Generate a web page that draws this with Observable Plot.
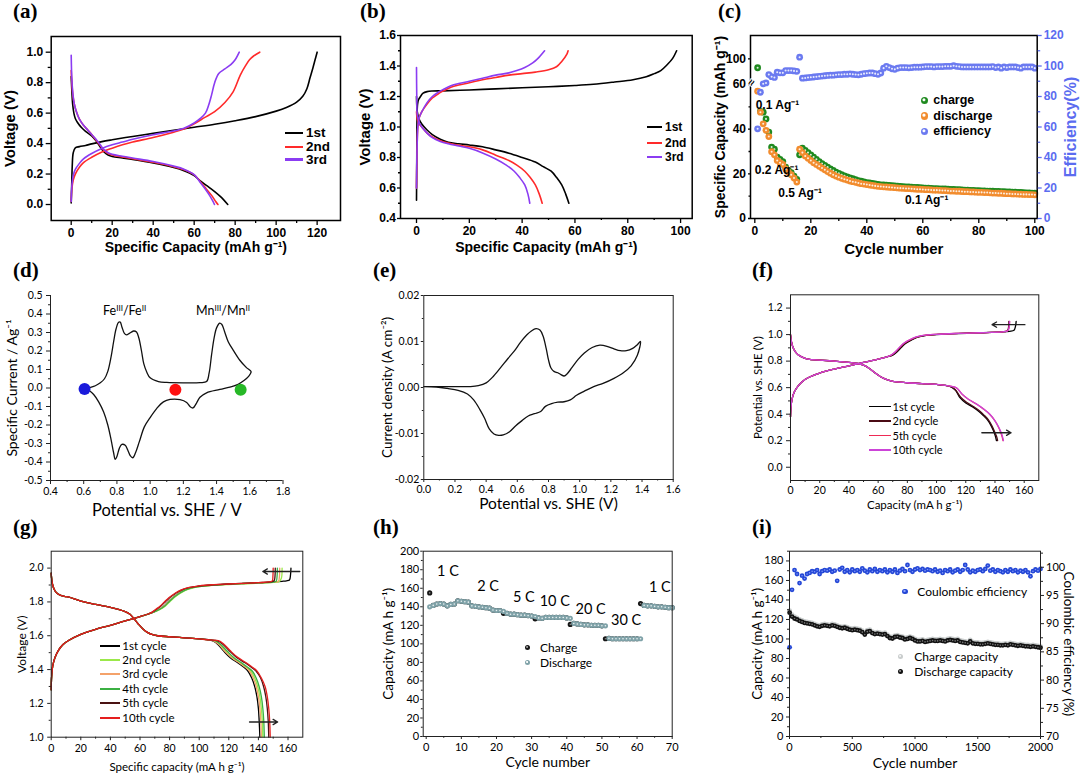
<!DOCTYPE html>
<html>
<head>
<meta charset="utf-8">
<script src="https://cdn.jsdelivr.net/npm/d3@7"></script>
<script src="https://cdn.jsdelivr.net/npm/@observablehq/plot@0.6"></script>
<style>
  html, body { margin:0; padding:0; background:#fff; }
  #fig { position:relative; width:1080px; height:777px; overflow:hidden; background:#fff; }
  .pl { position:absolute; }
  .tag { position:absolute; font-family:"Liberation Serif","Times New Roman",serif; font-weight:bold; font-size:21px; line-height:21px; color:#000; }
  .lg { position:absolute; white-space:nowrap; color:#000; }
  .sw { position:absolute; }
  .dotsw { position:absolute; border-radius:50%; }
  sup { font-size:65%; line-height:0; vertical-align:0.5em; }
</style>
</head>
<body>
<div id="fig"></div>
<script>
// ======================= DATA =======================
// (a) galvanostatic curves [capacity mAh/g, voltage V]
const aSeries = ["1st", "2nd", "3rd"];
const aCharge1 = [[0,0.01],[0.2,0.1],[0.5,0.25],[1,0.34],[2,0.372],[4,0.38],[7,0.388],[10,0.398],[15,0.413],[20,0.425],[30,0.447],[40,0.467],[50,0.487],[60,0.507],[70,0.527],[80,0.55],[90,0.577],[100,0.613],[105,0.637],[110,0.672],[113,0.71],[115,0.76],[116.5,0.83],[118,0.9],[119,0.95],[120,1.0]];
const aCharge2 = [[0,0.02],[0.3,0.1],[1,0.16],[2,0.2],[4,0.245],[6,0.275],[10,0.31],[15,0.345],[20,0.37],[25,0.392],[30,0.41],[40,0.44],[50,0.475],[55,0.495],[60,0.53],[65,0.57],[70,0.61],[75,0.67],[79,0.74],[82.5,0.85],[85,0.91],[87,0.95],[89,0.975],[92,1.0]];
const aCharge3 = [[0,0.02],[0.3,0.12],[1,0.19],[2,0.23],[4,0.27],[6,0.3],[10,0.335],[15,0.368],[20,0.392],[25,0.41],[30,0.428],[40,0.458],[50,0.483],[55,0.5],[60,0.535],[63,0.565],[65.5,0.6],[67,0.65],[68.5,0.72],[70,0.8],[72,0.86],[75,0.89],[78,0.92],[80,0.95],[82,1.0]];
const aDischarge1 = [[0,0.84],[0.3,0.75],[0.7,0.66],[1.3,0.6],[2,0.565],[3,0.54],[5,0.505],[7,0.48],[10,0.45],[12,0.42],[14,0.38],[16,0.345],[18,0.325],[20,0.315],[25,0.305],[30,0.295],[40,0.272],[50,0.243],[55,0.222],[60,0.19],[63,0.155],[66,0.125],[70,0.085],[73,0.05],[76.4,0.0]];
const aDischarge2 = [[0,0.88],[0.3,0.8],[0.8,0.72],[1.5,0.66],[2.5,0.61],[4,0.56],[6,0.52],[8,0.49],[10,0.46],[12,0.425],[14,0.39],[16,0.355],[18,0.335],[20,0.325],[25,0.312],[30,0.3],[40,0.277],[50,0.248],[55,0.228],[60,0.195],[63,0.15],[66,0.1],[68.5,0.06],[70.5,0.02],[71.6,0.0]];
const aDischarge3 = [[0,0.98],[0.3,0.83],[0.8,0.73],[1.5,0.66],[2.5,0.61],[4,0.56],[6,0.52],[8,0.49],[10,0.46],[12,0.43],[14,0.395],[16,0.36],[18,0.34],[20,0.33],[25,0.317],[30,0.305],[40,0.282],[50,0.252],[55,0.232],[60,0.196],[63,0.145],[65.5,0.1],[67.5,0.06],[69,0.025],[69.9,0.0]];
const aXTicks = [0,20,40,60,80,100,120], aXMinor = [10,30,50,70,90,110];
const aYTicks = [0,0.2,0.4,0.6,0.8,1.0], aYMinor = [0.1,0.3,0.5,0.7,0.9];

// (b)
const bSeries = ["1st", "2nd", "3rd"];
const bCharge1 = [[0,0.52],[0.1,0.8],[0.2,1.05],[0.4,1.15],[0.8,1.18],[1.5,1.2],[2.5,1.222],[4,1.232],[6,1.236],[10,1.237],[20,1.243],[30,1.25],[40,1.257],[50,1.264],[60,1.272],[67,1.28],[75,1.295],[82,1.31],[87,1.33],[90,1.35],[92.5,1.37],[95,1.41],[97,1.45],[98.5,1.5]];
const bCharge2 = [[0,0.6],[0.2,0.85],[0.5,1.0],[1,1.06],[2,1.1],[4,1.15],[6,1.19],[8,1.215],[10,1.235],[13,1.26],[16,1.275],[20,1.29],[25,1.31],[30,1.325],[35,1.34],[40,1.35],[45,1.36],[50,1.375],[53,1.395],[55,1.43],[57,1.48],[57.4,1.5]];
const bCharge3 = [[0,0.6],[0.2,0.85],[0.5,1.0],[1,1.06],[2,1.1],[4,1.16],[6,1.2],[8,1.225],[10,1.245],[13,1.27],[16,1.285],[20,1.3],[25,1.32],[30,1.34],[35,1.355],[38,1.37],[41,1.39],[44,1.42],[46,1.45],[48.5,1.5]];
const bDischarge1 = [[0,1.2],[0.3,1.1],[1,1.05],[2,1.02],[4,0.98],[6,0.95],[9,0.92],[12,0.9],[16,0.89],[20,0.882],[25,0.87],[30,0.85],[35,0.828],[40,0.8],[45,0.77],[48,0.74],[51,0.71],[53,0.67],[55,0.62],[56.5,0.56],[57.7,0.5]];
const bDischarge2 = [[0,1.1],[0.3,1.05],[1,1.02],[2,1.0],[4,0.96],[6,0.935],[9,0.91],[12,0.895],[16,0.88],[20,0.87],[25,0.85],[30,0.815],[35,0.78],[38,0.75],[41,0.71],[43,0.67],[45,0.62],[46.5,0.56],[47.6,0.5]];
const bDischarge3 = [[0,1.39],[0.1,1.2],[0.3,1.08],[1,1.03],[2,1.0],[4,0.96],[6,0.93],[9,0.905],[12,0.89],[16,0.875],[20,0.86],[25,0.83],[30,0.79],[34,0.75],[37,0.71],[39,0.67],[41,0.62],[42.2,0.56],[42.9,0.5]];
const bXTicks = [0,20,40,60,80,100], bXMinor = [10,30,50,70,90];
const bYTicks = [0.4,0.6,0.8,1.0,1.2,1.4,1.6], bYMinor = [0.5,0.7,0.9,1.1,1.3,1.5];

// (c) cycling, cycles 1..100
const cSeries = ["charge", "discharge", "efficiency"];
const cCharge = [
  96, 48, 47.6, 44.6, 38.7, 32, 31, 27.5, 26.5, 25.5,
  23, 21.5, 20.5, 19, 17.5, 28.5, 31.5, 30.5, 29.5, 28.5,
  27.5, 26.5, 25.5, 24.6, 23.8, 23, 22.2, 21.5, 20.8, 20.2,
  19.6, 19.1, 18.6, 18.2, 17.8, 17.4, 17, 16.7, 16.4, 16.1,
  15.9, 15.7, 15.5, 15.3, 15.1, 15, 14.9, 14.8, 14.7, 14.6,
  14.5, 14.4, 14.3, 14.2, 14.1, 14.0, 13.9, 13.9, 13.8, 13.7,
  13.6, 13.6, 13.5, 13.4, 13.4, 13.3, 13.2, 13.2, 13.1, 13.0,
  13.0, 12.9, 12.9, 12.8, 12.7, 12.7, 12.6, 12.6, 12.5, 12.5,
  12.4, 12.4, 12.3, 12.3, 12.2, 12.1, 12.1, 12.0, 12.0, 11.9,
  11.9, 11.8, 11.8, 11.7, 11.7, 11.6, 11.5, 11.5, 11.4, 11.4];
const cDischarge = [
  57, 47.6, 42.4, 39.5, 36.7, 29.9, 28.5, 26, 25, 24.2,
  22.2, 20.7, 19.6, 18.1, 16.3, 31, 29.5, 28, 27, 26,
  25, 24.2, 23.4, 22.6, 21.8, 21, 20.3, 19.6, 19, 18.5,
  18, 17.6, 17.2, 16.8, 16.5, 16.2, 15.9, 15.6, 15.4, 15.2,
  15, 14.8, 14.6, 14.4, 14.3, 14.2, 14.1, 14.0, 13.9, 13.8,
  13.7, 13.6, 13.5, 13.4, 13.4, 13.3, 13.2, 13.1, 13.1, 13.0,
  12.9, 12.9, 12.8, 12.7, 12.7, 12.6, 12.5, 12.5, 12.4, 12.3,
  12.3, 12.2, 12.2, 12.1, 12.0, 12.0, 11.9, 11.9, 11.8, 11.7,
  11.7, 11.6, 11.6, 11.5, 11.4, 11.4, 11.3, 11.3, 11.2, 11.1,
  11.1, 11.0, 11.0, 10.9, 10.9, 10.8, 10.8, 10.7, 10.7, 10.6];
const cEff = [
  58.8, 82.8, 88.3, 88.9, 94.4, 93, 92.5, 95.9, 95.5, 95.5,
  97, 97, 97, 96.8, 96.5, 105.8, 92, 92.2, 92.4, 92.6,
  92.8, 93, 93.2, 93.4, 93.6, 93.8, 94, 94, 94.2, 94.4,
  94.4, 94.6, 94.6, 94.8, 94.6, 94.4, 94.2, 94.6, 95, 95.2,
  95.4, 95.4, 95, 94.6, 95.4, 98.6, 99.8, 99, 98.2, 97.8,
  98.6, 99, 99, 99, 98.8, 99, 99.2, 99.2, 99.2, 99.4,
  99.6, 99.6, 99.6, 99.4, 99.6, 99.6, 99.6, 99.8, 99.8, 99.8,
  100.2, 99.8, 99.6, 99.4, 99.4, 99.4, 99.4, 99.4, 99.4, 99.4,
  99.4, 99.4, 99.4, 99.4, 99.6, 99, 99.4, 98.6, 99.4, 99,
  99.4, 99.4, 99.4, 99, 98.6, 99.4, 99.4, 99.4, 99.4, 98.6];
const cRateText = ["0.1 Ag⁻¹", "0.2 Ag⁻¹", "0.5 Ag⁻¹", "0.1 Ag⁻¹"];
const cRateCycle = [0.3, 0, 8.4, 53.6];
const cRateCap = [50.6, 21.5, 11.3, 8.1];
const cXTicks = [0,20,40,60,80,100], cXMinor = [10,30,50,70,90];
const cCapTicks = [0,20,40,60,100], cCapMinor = [10,30,50];
const cEffTicks = [0,20,40,60,80,100,120], cEffMinor = [10,30,50,70,90,110];

// (d) CV loop [potential V, current A/g]
const dCV = [[0.615,-0.003],[0.64,0.003],[0.67,0.012],[0.7,0.028],[0.725,0.05],[0.745,0.09],[0.765,0.17],[0.78,0.25],[0.795,0.32],[0.81,0.355],[0.82,0.356],[0.83,0.33],[0.845,0.295],[0.858,0.287],[0.875,0.295],[0.9,0.308],[0.918,0.303],[0.932,0.27],[0.948,0.2],[0.962,0.13],[0.98,0.085],[1.0,0.055],[1.05,0.035],[1.1,0.03],[1.2,0.028],[1.3,0.029],[1.34,0.035],[1.355,0.08],[1.37,0.18],[1.385,0.27],[1.40,0.325],[1.418,0.35],[1.432,0.343],[1.448,0.305],[1.47,0.25],[1.5,0.205],[1.54,0.15],[1.58,0.11],[1.608,0.088],[1.59,0.06],[1.565,0.04],[1.53,0.02],[1.5,0.01],[1.42,-0.008],[1.34,-0.026],[1.3,-0.05],[1.28,-0.08],[1.258,-0.108],[1.24,-0.1],[1.22,-0.078],[1.18,-0.063],[1.12,-0.062],[1.08,-0.075],[1.04,-0.11],[1.0,-0.16],[0.965,-0.21],[0.935,-0.29],[0.912,-0.35],[0.895,-0.377],[0.88,-0.365],[0.865,-0.335],[0.85,-0.31],[0.83,-0.305],[0.815,-0.325],[0.8,-0.37],[0.79,-0.386],[0.78,-0.35],[0.765,-0.28],[0.745,-0.2],[0.72,-0.13],[0.69,-0.075],[0.66,-0.035],[0.63,-0.012],[0.615,-0.003]];
const dDotX = [0.605, 1.152, 1.545];
const dDotY = [-0.005, -0.01, -0.01];
const dXTicks = [0.4,0.6,0.8,1.0,1.2,1.4,1.6,1.8], dXMinor = [0.5,0.7,0.9,1.1,1.3,1.5,1.7];
const dYTicks = [-0.5,-0.4,-0.3,-0.2,-0.1,0,0.1,0.2,0.3,0.4,0.5];
const dYMinor = [-0.45,-0.35,-0.25,-0.15,-0.05,0.05,0.15,0.25,0.35,0.45];

// (e) CV loop [potential V, current density A/cm2]
const eCV = [[0,0.0002],[0.1,0.0002],[0.2,0.0002],[0.3,0.0002],[0.35,0.0004],[0.4,0.001],[0.44,0.0022],[0.49,0.0042],[0.54,0.0063],[0.58,0.0079],[0.62,0.0098],[0.66,0.0114],[0.69,0.0123],[0.72,0.0128],[0.745,0.0125],[0.765,0.0112],[0.785,0.0085],[0.8,0.006],[0.815,0.0043],[0.835,0.0035],[0.86,0.0032],[0.88,0.0028],[0.9,0.0025],[0.92,0.003],[0.95,0.0043],[0.99,0.0061],[1.03,0.0075],[1.08,0.0087],[1.13,0.0092],[1.18,0.0089],[1.22,0.0084],[1.26,0.008],[1.3,0.008],[1.34,0.0085],[1.37,0.0093],[1.39,0.01],[1.37,0.007],[1.33,0.0047],[1.28,0.0032],[1.22,0.002],[1.15,0.0009],[1.09,0.0002],[1.03,-0.0008],[0.98,-0.0017],[0.94,-0.0027],[0.9,-0.0031],[0.86,-0.0032],[0.82,-0.0035],[0.78,-0.0041],[0.75,-0.0052],[0.71,-0.0057],[0.67,-0.0062],[0.63,-0.0072],[0.59,-0.0083],[0.55,-0.0096],[0.51,-0.0103],[0.48,-0.0104],[0.45,-0.0101],[0.42,-0.009],[0.39,-0.0067],[0.36,-0.0048],[0.32,-0.0027],[0.28,-0.0014],[0.22,-0.0006],[0.15,-0.0002],[0.08,0.0001],[0,0.0002]];
const eXTicks = [0,0.2,0.4,0.6,0.8,1.0,1.2,1.4,1.6], eXMinor = [0.1,0.3,0.5,0.7,0.9,1.1,1.3,1.5];
const eYTicks = [-0.02,-0.01,0,0.01,0.02], eYMinor = [-0.015,-0.005,0.005,0.015];

// (f) [capacity mAh/g, potential V]
const fSeries = ["1st cycle", "2nd cycle", "5th cycle", "10th cycle"];
const fChargeHead = [[0,0.38],[0.3,0.45],[1,0.51],[2.5,0.565],[5,0.61],[8,0.645],[12,0.675],[20,0.71],[30,0.74],[40,0.765],[50,0.79],[60,0.815],[66,0.832]];
const fChargeTail = [
  [[70,0.845],[73,0.87],[76,0.905],[79,0.935],[83,0.96],[87,0.98],[92,0.993],[100,1.0],[115,1.008],[130,1.013],[145,1.02],[150,1.025],[153,1.032],[154,1.06],[154.5,1.1]],
  [[69.5,0.845],[72.5,0.87],[75.5,0.905],[78.5,0.935],[82.5,0.96],[86.5,0.98],[91.5,0.993],[100,1.001],[115,1.009],[130,1.014],[145,1.021],[148,1.026],[149,1.04],[149.5,1.1]],
  [[69,0.845],[72,0.872],[75,0.907],[78,0.937],[82,0.962],[86,0.981],[91,0.994],[100,1.002],[115,1.009],[130,1.014],[145,1.021],[148.5,1.027],[149.5,1.045],[150,1.1]],
  [[69,0.846],[72,0.873],[75,0.908],[78,0.938],[82,0.963],[86,0.982],[91,0.994],[100,1.002],[115,1.009],[130,1.014],[145,1.021],[148.5,1.027],[149.5,1.045],[150,1.1]]];
const fDischargeHead = [[0,1.0],[0.5,0.955],[1.5,0.91],[3,0.875],[5,0.85],[8,0.83],[12,0.815],[20,0.808],[30,0.8],[40,0.79],[46,0.782],[50,0.77],[54,0.745],[58,0.71],[62,0.68],[66,0.66],[70,0.647],[80,0.637],[90,0.63],[100,0.624],[106,0.617]];
const fDischargeTail = [
  [[110,0.605],[113,0.58],[116,0.525],[120,0.485],[125,0.452],[129,0.42],[132,0.39],[135,0.355],[137.5,0.31],[139.5,0.26],[140.5,0.225],[141,0.2]],
  [[110,0.606],[113,0.582],[116.5,0.528],[120.5,0.49],[125.5,0.456],[129.5,0.424],[132.5,0.393],[135.5,0.357],[138,0.31],[140,0.26],[141.3,0.225],[141.8,0.2]],
  [[111,0.608],[114,0.595],[117.5,0.55],[122,0.51],[127.5,0.475],[132,0.44],[136.5,0.398],[140,0.35],[142.5,0.3],[144,0.26],[145,0.225],[145.5,0.2]],
  [[111,0.608],[114,0.595],[117.5,0.551],[122,0.511],[127.5,0.476],[132,0.441],[136.5,0.399],[140,0.35],[142.7,0.3],[144.3,0.26],[145.3,0.225],[145.8,0.2]]];
const fArrowX1 = [160.5, 131], fArrowX2 = [138, 151], fArrowY = [1.075, 0.26];
const fXTicks = [0,20,40,60,80,100,120,140,160], fXMinor = [10,30,50,70,90,110,130,150];
const fYTicks = [0,0.2,0.4,0.6,0.8,1.0,1.2], fYMinor = [0.1,0.3,0.5,0.7,0.9,1.1];

// (g) [capacity mAh/g, voltage V]
const gSeries = ["1st cycle", "2nd cycle", "3rd cycle", "4th cycle", "5th cycle", "10th cycle"];
const gChargeHead = [[0,1.28],[0.3,1.36],[1,1.42],[2.5,1.47],[5,1.515],[8,1.548],[12,1.573],[20,1.608],[30,1.638],[40,1.662],[50,1.688],[60,1.713],[66,1.73]];
const gChargeTail = [
  [[70,1.742],[73,1.755],[76,1.775],[79,1.8],[82,1.825],[86,1.85],[90,1.87],[95,1.884],[100,1.893],[110,1.9],[120,1.905],[130,1.909],[140,1.913],[150,1.918],[156,1.922],[159,1.925],[161,1.93],[161.7,1.96],[162,2.0]],
  [[70,1.742],[73.5,1.755],[77,1.775],[80,1.8],[83,1.825],[87,1.85],[91,1.87],[96,1.883],[100,1.89],[110,1.898],[120,1.903],[130,1.907],[140,1.911],[150,1.916],[154,1.92],[155.5,1.94],[156,2.0]],
  [[69,1.74],[72.5,1.755],[76,1.775],[79,1.8],[82,1.825],[86,1.85],[90,1.87],[95,1.884],[100,1.892],[110,1.9],[120,1.905],[130,1.909],[140,1.913],[150,1.917],[153.5,1.922],[154.2,1.95],[154.4,2.0]],
  [[69,1.74],[73,1.755],[76.5,1.775],[79.5,1.8],[82.5,1.825],[86.5,1.85],[90.5,1.87],[95.5,1.884],[100,1.891],[110,1.9],[120,1.905],[130,1.909],[140,1.913],[150,1.917],[152,1.922],[152.6,1.95],[152.8,2.0]],
  [[68,1.738],[71,1.755],[74,1.775],[77,1.8],[80,1.825],[84,1.85],[88,1.87],[93,1.884],[100,1.894],[110,1.901],[120,1.906],[130,1.91],[140,1.914],[148,1.918],[150.6,1.925],[151.2,1.95],[151.4,2.0]],
  [[68,1.738],[70.5,1.755],[73.5,1.775],[76.5,1.8],[79.5,1.825],[83.5,1.85],[87.5,1.87],[92.5,1.884],[100,1.895],[110,1.902],[120,1.906],[130,1.91],[140,1.914],[147,1.918],[149.4,1.925],[149.8,1.95],[150,2.0]]];
const gDischargeHead = [[0,1.97],[0.4,1.93],[1,1.9],[2,1.875],[3.5,1.855],[6,1.84],[9,1.833],[12,1.828],[20,1.805],[30,1.785],[40,1.768],[46,1.755],[50,1.743],[53,1.728],[56,1.7],[59,1.668],[62,1.64],[65,1.62],[68,1.608],[72,1.6],[80,1.594],[90,1.588],[100,1.581],[107,1.575]];
const gDischargeTail = [
  [[110,1.566],[113,1.545],[117,1.505],[121,1.47],[126,1.44],[130,1.415],[133,1.39],[135.5,1.35],[137.5,1.3],[139,1.24],[140,1.17],[140.5,1.1],[141,1.0]],
  [[111,1.568],[114,1.547],[118,1.507],[122.5,1.47],[127.5,1.44],[131.5,1.415],[135,1.39],[137.5,1.35],[139.5,1.3],[141,1.24],[142,1.17],[142.6,1.1],[143,1.0]],
  [[110.5,1.567],[113.5,1.546],[117.5,1.506],[122,1.47],[127,1.44],[131,1.415],[134,1.39],[136.5,1.35],[138.5,1.3],[140,1.24],[141,1.17],[141.6,1.1],[142,1.0]],
  [[111.5,1.568],[114.5,1.548],[119,1.508],[123.5,1.47],[128.5,1.44],[132.5,1.415],[136,1.39],[138.5,1.35],[140.5,1.3],[142,1.24],[143,1.17],[143.6,1.1],[144,1.0]],
  [[112.5,1.57],[116,1.55],[120.5,1.51],[125.5,1.47],[131,1.44],[135,1.415],[138.5,1.39],[141.5,1.35],[143.5,1.3],[145,1.24],[146,1.17],[146.6,1.1],[147,1.0]],
  [[113,1.571],[116.5,1.551],[121,1.511],[126,1.472],[131.5,1.442],[135.5,1.417],[139,1.392],[142,1.35],[144.5,1.3],[146,1.24],[147,1.17],[147.6,1.1],[148,1.0]]];
const gArrowX1 = [168, 134], gArrowX2 = [143, 153], gArrowY = [1.98, 1.09];
const gXTicks = [0,20,40,60,80,100,120,140,160], gXMinor = [10,30,50,70,90,110,130,150];
const gYTicks = [1.0,1.2,1.4,1.6,1.8,2.0], gYMinor = [1.1,1.3,1.5,1.7,1.9];

// (h) rate capability, cycles 1..70
const hSeries = ["Charge", "Discharge"];
const hCharge = [
  155, 141.5, 143, 143.5, 143, 141, 142.5, 143, 146.5, 146,
  145.5, 145, 141, 140.5, 140, 139.5, 139, 138.5, 136.5, 136,
  136, 133, 133, 132, 132, 131.5, 131, 131, 130.5, 130,
  127, 128, 127.5, 128.5, 128.5, 128.5, 128.5, 128.5, 128.5, 128,
  121, 122, 121.5, 121, 120.5, 120.5, 120, 120, 120, 119.5,
  105.5, 106, 105.5, 105.5, 105.5, 105.5, 105.5, 105.5, 105.5, 105.5,
  143.5, 141.5, 141, 141, 140.5, 140, 140, 139.5, 139, 139];
const hDischarge = [
  140, 141.5, 143, 143.5, 143, 141, 142.5, 143, 146.5, 146,
  145.5, 145, 141, 140.5, 140, 139.5, 139, 138.5, 136.5, 136,
  136, 135, 133, 132, 132, 131.5, 131, 131, 130.5, 130,
  129.5, 128, 127.5, 128.5, 128.5, 128.5, 128.5, 128.5, 128.5, 128,
  127.5, 122, 121.5, 121, 120.5, 120.5, 120, 120, 120, 119.5,
  119.5, 106, 105.5, 105.5, 105.5, 105.5, 105.5, 105.5, 105.5, 105.5,
  105.5, 141.5, 141, 141, 140.5, 140, 140, 139.5, 139, 139];
const hRateText = ["1 C", "2 C", "5 C", "10 C", "20 C", "30 C", "1 C"];
const hRateCycle = [6.2, 17.6, 27.8, 36.6, 46.8, 56.9, 66.5];
const hRateCap = [178, 162, 150.4, 146, 136.7, 125.2, 161];
const hXTicks = [0,10,20,30,40,50,60,70], hXMinor = [5,15,25,35,45,55,65];
const hYTicks = [0,20,40,60,80,100,120,140,160,180,200], hYMinor = [10,30,50,70,90,110,130,150,170,190];

// (i) long cycling, every 20 cycles (cycle 1, 20, 40, ..., 2000)
const iSeries = ["Coulombic efficiency", "Charge capacity", "Discharge capacity"];
const iCycles = d3.range(0, 2001, 20).map(c => Math.max(c, 1));
const iEff = [
  85.8, 96, 99.5, 98.8, 97.2, 98.5, 98, 98.8, 99, 99.3,
  99.2, 99.5, 98.8, 99.3, 99.5, 99.4, 99.6, 99.2, 99.4, 97.6,
  99.6, 99.9, 99.2, 99.5, 99.1, 99.6, 99.3, 99.5, 99.2, 99.8,
  99.4, 99.1, 99.6, 99.3, 99.7, 99.2, 99.5, 99.3, 99.6, 99.1,
  99.5, 99.2, 99.6, 99.0, 99.4, 99.7, 99.3, 100.4, 99.5, 99.2,
  99.6, 99.8, 99.5, 99.7, 99.4, 99.6, 99.5, 99.3, 99.6, 99.2,
  99.4, 99.0, 99.5, 99.3, 99.6, 99.1, 99.4, 99.6, 99.2, 99.5,
  100.4, 99.6, 99.1, 99.4, 99.2, 99.5, 99.6, 99.3, 99.7, 100.3,
  99.4, 99.6, 99.2, 99.5, 99.3, 99.1, 99.5, 99.2, 99.6, 99.3,
  99.5, 99.1, 99.4, 99.2, 99.5, 99.1, 98.4, 99.3, 99.6, 99.4,
  99.7];
const iCharge = [
  129, 125, 123, 121.5, 120, 119, 118, 117.5, 117, 116.5,
  115.5, 114.5, 114, 115, 115.5, 115, 114.5, 115.5, 115, 114,
  113, 112.5, 113, 112, 111, 110.5, 111, 110.5, 110, 108.5,
  106, 109, 109.5, 107.5, 106.5, 107, 106.5, 106, 106.5, 104.5,
  102.5, 102, 103.5, 104, 103, 102.5, 101, 101.5, 102.5, 101.5,
  100, 99, 99, 99.5, 98.5, 99, 99.5, 100, 99.5, 99.5,
  100, 99.5, 99, 100, 100.5, 100, 99.5, 100, 98.5, 98,
  97.5, 97, 99, 97, 96.5, 96.5, 96, 96, 96.5, 97,
  96.5, 96, 95.5, 95.5, 95, 95, 95.5, 95, 96, 95.5,
  95, 94.5, 95, 94.5, 94, 94, 93.5, 94, 93.5, 93,
  92.5];
const iDischarge = [
  127, 123, 121, 120, 118.5, 117.5, 116.5, 116, 115.5, 115,
  114, 113, 112.5, 113.5, 114, 113.5, 113, 114, 113.5, 112.5,
  111.5, 111, 111.5, 110.5, 109.5, 109, 109.5, 109, 108.5, 107,
  104.5, 107.5, 108, 106, 105, 105.5, 105, 104.5, 105, 103,
  101, 100.5, 102, 102.5, 101.5, 101, 99.5, 100, 101, 100,
  98.5, 97.5, 97.5, 98, 97, 97.5, 98, 98.5, 98, 98,
  98.5, 98, 97.5, 98.5, 99, 98.5, 98, 98.5, 97, 96.5,
  96, 95.5, 97.5, 95.5, 95, 95, 94.5, 94.5, 95, 95.5,
  95, 94.5, 94, 94, 93.5, 93.5, 94, 93.5, 94.5, 94,
  93.5, 93, 93.5, 93, 92.5, 92.5, 92, 92.5, 92, 91.5,
  91];
const iXTicks = [0,500,1000,1500,2000], iXMinor = [250,750,1250,1750];
const iCapTicks = [0,20,40,60,80,100,120,140,160,180], iCapMinor = [10,30,50,70,90,110,130,150,170,190];
const iEffTicks = [70,75,80,85,90,95,100], iEffMinor = [72.5,77.5,82.5,87.5,92.5,97.5,102.5];

// ======================= HELPERS =======================
const fig = document.getElementById("fig");
const F_B = "'Liberation Sans', Arial, Helvetica, sans-serif";
const F_L = "Lato, 'Open Sans', 'Noto Sans', sans-serif";

function place(plot, left, top, w, h) {
  const d = document.createElement("div");
  d.className = "pl";
  d.style.left = left + "px"; d.style.top = top + "px";
  d.style.width = w + "px"; d.style.height = h + "px";
  d.appendChild(plot);
  fig.appendChild(d);
}
function axes(o) {
  const sw = o.sw || 1, col = o.color || "currentColor";
  const m = [];
  m.push(Plot.axisX(o.xT, {anchor: "bottom", tickSize: o.xs ?? 4, tickPadding: o.xp ?? 3, tickFormat: o.xF, label: null, strokeWidth: sw, stroke: col}));
  if (o.xm) m.push(Plot.axisX(o.xm, {anchor: "bottom", tickSize: o.ms ?? 2.5, tickFormat: () => "", label: null, strokeWidth: sw, stroke: col}));
  if (o.yT) m.push(Plot.axisY(o.yT, {anchor: "left", tickSize: o.ys ?? 4, tickPadding: o.yp ?? 3, tickFormat: o.yF, label: null, strokeWidth: sw, stroke: col}));
  if (o.ym) m.push(Plot.axisY(o.ym, {anchor: "left", tickSize: o.ms ?? 2.5, tickFormat: () => "", label: null, strokeWidth: sw, stroke: col}));
  return m;
}
function xLab(t, dy, fs, extra) {
  return Plot.text([t], {text: d => d, frameAnchor: "bottom", dy, fontSize: fs, textAnchor: "middle", lineAnchor: "middle", ...(extra || {})});
}
function yLab(t, dx, fs, extra, side, rot) {
  return Plot.text([t], {text: d => d, frameAnchor: side || "left", dx, rotate: rot ?? -90, fontSize: fs, textAnchor: "middle", lineAnchor: "middle", ...(extra || {})});
}
function curve(arr, stroke, sw) {
  return Plot.line(arr, {x: d => d[0], y: d => d[1], stroke, strokeWidth: sw, curve: "catmull-rom"});
}
function styleOf(font, size, weight) {
  return {fontFamily: font, fontSize: size + "px", fontWeight: weight || "normal", color: "#000", background: "transparent", overflow: "visible"};
}
function tag(t, left, top) {
  const d = document.createElement("div");
  d.className = "tag"; d.style.left = left + "px"; d.style.top = top + "px"; d.textContent = t;
  fig.appendChild(d);
}
function legText(html, x, cy, font, size, weight, color) {
  const d = document.createElement("div");
  d.className = "lg";
  d.style.left = x + "px"; d.style.top = (cy - size * 0.6) + "px";
  d.style.lineHeight = (size * 1.2) + "px";
  d.style.fontFamily = font; d.style.fontSize = size + "px"; d.style.fontWeight = weight || "normal";
  if (color) d.style.color = color;
  d.innerHTML = html;
  fig.appendChild(d);
}
function legLine(x1, x2, cy, color, w) {
  const d = document.createElement("div");
  d.className = "sw";
  d.style.left = x1 + "px"; d.style.width = (x2 - x1) + "px";
  d.style.top = (cy - w / 2) + "px"; d.style.height = w + "px"; d.style.background = color;
  fig.appendChild(d);
}
function legDot(cx, cy, r, color, hl) {
  const d = document.createElement("div");
  d.className = "dotsw";
  d.style.left = (cx - r) + "px"; d.style.top = (cy - r) + "px";
  d.style.width = (2 * r) + "px"; d.style.height = (2 * r) + "px";
  d.style.background = hl ? `radial-gradient(circle at 42% 40%, ${hl} 0 14%, ${color} 34%)` : color;
  fig.appendChild(d);
}
function sphere(data, x, y, r, fill, hl) {
  return [
    Plot.dot(data, {x, y, r, fill}),
    Plot.dot(data, {x, y, r: Math.max(0.8, r * 0.3), fill: hl || "white", fillOpacity: 0.85})
  ];
}
const fmt0 = d => String(d);
const fmt1 = d => d.toFixed(1);
const fmt2 = d => d.toFixed(2);

// ======================= (a) =======================
const abColors = ["#000000", "#ff2a2a", "#8b3cf2"];
{
  const ch = [aCharge1, aCharge2, aCharge3], dis = [aDischarge1, aDischarge2, aDischarge3];
  place(Plot.plot({
    width: 360, height: 232, marginLeft: 50.7, marginRight: 20, marginTop: 8, marginBottom: 40,
    x: {domain: [-9.76, 131.4]}, y: {domain: [-0.105, 1.103]},
    style: styleOf(F_B, 12, "bold"),
    marks: [
      ...aSeries.flatMap((s, i) => [curve(ch[i], abColors[i], 1.6), curve(dis[i], abColors[i], 1.6)]),
      Plot.frame({strokeWidth: 1.5}),
      ...axes({xT: aXTicks, xm: aXMinor, yT: aYTicks, ym: aYMinor, xF: fmt0, yF: fmt1, sw: 1.3, xs: 5, xp: 3, ys: 5, yp: 3, ms: 3}),
      xLab("Specific Capacity (mAh g⁻¹)", 27, 14, {fontWeight: "bold"}),
      yLab("Voltage (V)", -40.7, 15, {fontWeight: "bold"})
    ]
  }), 0, 28, 360, 232);
  aSeries.forEach((s, i) => {
    const cy = [133, 146.7, 159.6][i];
    legLine(285, 303, cy, abColors[i], 2.4);
    legText(s, 306, cy, F_B, 13.5, "bold");
  });
}

// ======================= (b) =======================
{
  const ch = [bCharge1, bCharge2, bCharge3], dis = [bDischarge1, bDischarge2, bDischarge3];
  place(Plot.plot({
    width: 360, height: 233, marginLeft: 40, marginRight: 28.3, marginTop: 8, marginBottom: 42,
    x: {domain: [-6.06, 104.4]}, y: {domain: [0.4, 1.6]},
    style: styleOf(F_B, 12, "bold"),
    marks: [
      ...bSeries.flatMap((s, i) => [curve(ch[i], abColors[i], 1.6), curve(dis[i], abColors[i], 1.6)]),
      Plot.frame({strokeWidth: 1.5}),
      ...axes({xT: bXTicks, xm: bXMinor, yT: bYTicks, ym: bYMinor, xF: fmt0, yF: fmt1, sw: 1.3, xs: 5, xp: 3, ys: 3, yp: 1.5, ms: 2}),
      xLab("Specific Capacity (mAh g⁻¹)", 28.7, 14, {fontWeight: "bold"}),
      yLab("Voltage (V)", -35, 15, {fontWeight: "bold"})
    ]
  }), 360, 27, 360, 233);
  bSeries.forEach((s, i) => {
    const cy = [127.3, 142.7, 156.7][i];
    legLine(647.3, 661.7, cy, abColors[i], 2.4);
    legText(s, 665, cy, F_B, 12, "bold");
  });
}

// ======================= (c) =======================
const cColors = ["#1f8a1f", "#f28c2e", "#6b7af0"];
const capLo = 60, capHi = 88.5, capK = 87.87 / 60;
const capY = c => (c <= capLo ? c * capK : (capLo + c - capHi) * capK);
const capInv = v => { const c = v / capK; return c <= capLo + 1e-6 ? c : c - capLo + capHi; };
{
  const rows = cCharge.map((v, i) => ({n: i + 1, ch: v, dis: cDischarge[i], ef: cEff[i]}));
  const rates = cRateText.map((t, i) => ({t, x: cRateCycle[i], y: capY(cRateCap[i])}));
  const blue = "#5b6cf0";
  place(Plot.plot({
    width: 365, height: 233, marginLeft: 35, marginRight: 43.3, marginTop: 8, marginBottom: 42,
    x: {domain: [-1.54, 100.86]}, y: {domain: [0, 120]},
    style: styleOf(F_B, 12, "bold"),
    marks: [
      ...sphere(rows, "n", d => capY(d.ch), 3.4, cColors[0]),
      ...sphere(rows, "n", d => capY(d.dis), 3.4, cColors[1]),
      ...sphere(rows, "n", "ef", 3.4, cColors[2]),
      Plot.text(rates, {x: "x", y: "y", text: "t", textAnchor: "start", fontSize: 12, fontWeight: "bold"}),
      Plot.frame({strokeWidth: 1.5}),
      ...axes({xT: cXTicks, xm: cXMinor, xF: fmt0, sw: 1.3, xs: 5, xp: 3, ms: 3}),
      Plot.axisY(cCapTicks.map(capY), {anchor: "left", tickSize: 2, tickPadding: 2.5, tickFormat: v => String(Math.round(capInv(v))), label: null, strokeWidth: 1.3}),
      Plot.axisY(cCapMinor.map(capY), {anchor: "left", tickSize: 1.5, tickFormat: () => "", label: null, strokeWidth: 1.3}),
      Plot.axisY(cEffTicks, {anchor: "right", tickSize: 4, tickPadding: 2.5, tickFormat: fmt0, label: null, strokeWidth: 1.3, color: blue}),
      Plot.axisY(cEffMinor, {anchor: "right", tickSize: 2.5, tickFormat: () => "", label: null, strokeWidth: 1.3, color: blue}),
      Plot.text(["≈"], {text: d => d, frameAnchor: "left", y: () => capLo * capK + 1.2, dx: 1, rotate: -60, textAnchor: "middle", fontSize: 11, fontWeight: "bold", stroke: "white", strokeWidth: 2, fill: "black"}),
      xLab("Cycle number", 30.3, 15, {fontWeight: "bold"}),
      yLab("Specific Capacity (mAh g⁻¹)", -30, 14, {fontWeight: "bold"}),
      yLab("Efficiency(%)", 33.3, 16, {fontWeight: "bold", fill: blue}, "right", -90)
    ]
  }), 715, 27, 365, 233);
  const cy = [100.7, 116, 131.7];
  cSeries.forEach((s, i) => {
    legDot(924.3, cy[i], 3.8, cColors[i], "#ffffff");
    legText(s, 933.3, cy[i], F_B, 12.5, "bold");
  });
}

// ======================= (d) =======================
const dDotColors = ["#1a1adb", "#ff1010", "#27b827"];
{
  const dots = dDotX.map((x, i) => ({x, y: dDotY[i], c: dDotColors[i]}));
  place(Plot.plot({
    width: 360, height: 230, marginLeft: 50, marginRight: 77.5, marginTop: 10, marginBottom: 35,
    x: {domain: [0.4, 1.8]}, y: {domain: [-0.5, 0.5]},
    style: styleOf(F_L, 10.5),
    marks: [
      curve(dCV, "#111", 1.3),
      ...dots.map(d => Plot.dot([d], {x: "x", y: "y", r: 6, fill: d.c})),
      Plot.ruleX([0.4], {stroke: "#222"}),
      Plot.ruleY([-0.5], {stroke: "#222"}),
      ...axes({xT: dXTicks, xm: dXMinor, yT: dYTicks, ym: dYMinor, xF: fmt1, yF: fmt1, xs: 4, xp: 3, ys: 4, yp: 4, ms: 2, color: "#222"}),
      xLab("Potential vs. SHE / V", 30, 16.5),
      yLab("Specific Current / Ag⁻¹", -38.3, 14)
    ]
  }), 0, 285, 360, 230);
  legText("Fe<sup>III</sup>/Fe<sup>II</sup>", 103, 310, F_L, 12.5);
  legText("Mn<sup>III</sup>/Mn<sup>II</sup>", 196, 310, F_L, 12.5);
}

// ======================= (e) =======================
{
  place(Plot.plot({
    width: 360, height: 230, marginLeft: 63.3, marginRight: 47.3, marginTop: 10, marginBottom: 36,
    x: {domain: [0, 1.6]}, y: {domain: [-0.02, 0.02]},
    style: styleOf(F_L, 10.5),
    marks: [
      curve(eCV, "#111", 1.3),
      Plot.frame({stroke: "#222"}),
      ...axes({xT: eXTicks, xm: eXMinor, yT: eYTicks, ym: eYMinor, xF: fmt1, yF: fmt2, xs: 3, xp: 3.5, ys: 2.5, yp: 2, ms: 1.5, color: "#222"}),
      xLab("Potential vs. SHE (V)", 24.3, 15.5),
      yLab("Current density (A cm⁻²)", -36.6, 13.5)
    ]
  }), 360, 285, 360, 230);
}

// ======================= (f) =======================
const fColors = ["#000000", "#4a0a14", "#ee2a55", "#cc44d8"];
{
  const arrows = fArrowX1.map((x1, i) => ({x1, x2: fArrowX2[i], y: fArrowY[i]}));
  place(Plot.plot({
    width: 365, height: 230, marginLeft: 75, marginRight: 41.7, marginTop: 9.3, marginBottom: 35,
    x: {domain: [0, 170]}, y: {domain: [-0.1, 1.3]},
    style: styleOf(F_L, 10.5),
    marks: [
      ...fSeries.flatMap((s, i) => [curve(fChargeHead.concat(fChargeTail[i]), fColors[i], 1.3), curve(fDischargeHead.concat(fDischargeTail[i]), fColors[i], 1.3)]),
      Plot.arrow(arrows, {x1: "x1", x2: "x2", y1: "y", y2: "y", stroke: "#222", strokeWidth: 1.3, headLength: 6}),
      Plot.frame({stroke: "#222"}),
      ...axes({xT: fXTicks, xm: fXMinor, yT: fYTicks, ym: fYMinor, xF: fmt0, yF: fmt1, xs: 3, xp: 3, ys: 4, yp: 4, ms: 2, color: "#222"}),
      xLab("Capacity (mA h g⁻¹)", 25, 11.5),
      yLab("Potential vs. SHE (V)", -31.7, 11.5)
    ]
  }), 715, 285, 365, 230);
  const cy = [406.7, 421, 435.3, 450];
  fSeries.forEach((s, i) => {
    legLine(869, 890.7, cy[i], fColors[i], 1.6);
    legText(s, 892.5, cy[i], F_L, 11);
  });
}

// ======================= (g) =======================
const gColors = ["#000000", "#9be84a", "#f4a26a", "#3bb043", "#4a1212", "#e51e1e"];
{
  const arrows = gArrowX1.map((x1, i) => ({x1, x2: gArrowX2[i], y: gArrowY[i]}));
  place(Plot.plot({
    width: 360, height: 237, marginLeft: 50.7, marginRight: 57.7, marginTop: 10.7, marginBottom: 40.3,
    x: {domain: [0, 170]}, y: {domain: [1.0, 2.1]},
    style: styleOf(F_L, 10.5),
    marks: [
      ...gSeries.flatMap((s, i) => [curve(gChargeHead.concat(gChargeTail[i]), gColors[i], 1.3), curve(gDischargeHead.concat(gDischargeTail[i]), gColors[i], 1.3)]),
      Plot.arrow(arrows, {x1: "x1", x2: "x2", y1: "y", y2: "y", stroke: "#222", strokeWidth: 1.3, headLength: 6}),
      Plot.frame({stroke: "#222"}),
      ...axes({xT: gXTicks, xm: gXMinor, yT: gYTicks, ym: gYMinor, xF: fmt0, yF: fmt1, xs: 3.5, xp: 4, ys: 3.5, yp: 4, ms: 2, color: "#222"}),
      xLab("Specific capacity (mA h g⁻¹)", 30, 11.5),
      yLab("Voltage (V)", -29, 12)
    ]
  }), 0, 540, 360, 237);
  const cy = [645.7, 660, 674.3, 689, 703.3, 718];
  gSeries.forEach((s, i) => {
    legLine(100, 120, cy[i], gColors[i], 1.8);
    legText(s, 122.3, cy[i], F_L, 11.5);
  });
}

// ======================= (h) =======================
const hColors = ["#151515", "#7fa2a8"];
{
  const rows = hCharge.map((v, i) => ({n: i + 1, ch: v, dis: hDischarge[i]}));
  const rates = hRateText.map((t, i) => ({t, x: hRateCycle[i], y: hRateCap[i]}));
  place(Plot.plot({
    width: 360, height: 237, marginLeft: 62.7, marginRight: 48.3, marginTop: 10.7, marginBottom: 41,
    x: {domain: [-0.85, 70]}, y: {domain: [0, 200]},
    style: styleOf(F_L, 11),
    marks: [
      ...sphere(rows, "n", "ch", 2.6, hColors[0], "#9a9a9a"),
      ...sphere(rows, "n", "dis", 2.6, hColors[1], "#ffffff"),
      Plot.text(rates, {x: "x", y: "y", text: "t", fontSize: 14.5}),
      Plot.frame({stroke: "#222"}),
      ...axes({xT: hXTicks, xm: hXMinor, yT: hYTicks, ym: hYMinor, xF: fmt0, yF: fmt0, xs: 3, xp: 4, ys: 2.5, yp: 1.5, ms: 1.8, color: "#222"}),
      xLab("Cycle number", 25.7, 14),
      yLab("Capacity (mA h g⁻¹)", -34.4, 13.5)
    ]
  }), 360, 540, 360, 237);
  const cy = [647.7, 662.7];
  hSeries.forEach((s, i) => {
    legDot(527.7, cy[i], 2.8, hColors[i], i === 0 ? "#9a9a9a" : "#ffffff");
    legText(s, 540, cy[i], F_L, 12);
  });
}

// ======================= (i) =======================
const iColors = ["#2447d6", "#c9cdcd", "#111111"];
const effK = 5.785;
const effToCap = e => (e - 70) * effK;
{
  const rows = iCycles.map((n, i) => ({n, ef: iEff[i], ch: iCharge[i], dis: iDischarge[i]}));
  place(Plot.plot({
    width: 365, height: 237, marginLeft: 74, marginRight: 40, marginTop: 10.7, marginBottom: 41,
    x: {domain: [0, 2000]}, y: {domain: [0, 190]},
    style: styleOf(F_L, 11),
    marks: [
      ...sphere(rows, "n", "ch", 2.4, iColors[1], "#f2f2f2"),
      ...sphere(rows, "n", "dis", 2.4, iColors[2], "#888888"),
      ...sphere(rows, "n", d => effToCap(d.ef), 2.4, iColors[0], "#8fa4ff"),
      Plot.frame({stroke: "#222"}),
      ...axes({xT: iXTicks, xm: iXMinor, yT: iCapTicks, ym: iCapMinor, xF: fmt0, yF: fmt0, xs: 3, xp: 4, ys: 3, yp: 3, ms: 2, color: "#222"}),
      Plot.axisY(iEffTicks.map(effToCap), {anchor: "right", tickSize: 3, tickPadding: 2.5, tickFormat: v => String(Math.round(v / effK + 70)), label: null, stroke: "#222"}),
      Plot.axisY(iEffMinor.map(effToCap), {anchor: "right", tickSize: 2, tickFormat: () => "", label: null, stroke: "#222"}),
      xLab("Cycle number", 26.7, 14),
      yLab("Capacity (mA h g⁻¹)", -32.3, 13.5),
      yLab("Coulombic efficiency (%)", 28.3, 13.5, {}, "right", 90)
    ]
  }), 715, 540, 365, 237);
  legDot(905, 591.7, 2.8, iColors[0], "#8fa4ff");
  legText(iSeries[0], 917.3, 591.7, F_L, 12);
  legDot(900.7, 656.7, 2.8, iColors[1], "#f2f2f2");
  legText(iSeries[1], 914.3, 656.7, F_L, 12);
  legDot(900.7, 671.7, 2.8, iColors[2], "#888888");
  legText(iSeries[2], 914.3, 671.7, F_L, 12);
}

// ======================= panel tags =======================
tag("(a)", 13, 1.4); tag("(b)", 360, 1.4); tag("(c)", 718, 1.4);
tag("(d)", 13, 260.4); tag("(e)", 373, 260.4); tag("(f)", 752, 260.4);
tag("(g)", 13, 517); tag("(h)", 373, 517); tag("(i)", 752, 517);
</script>
</body>
</html>
